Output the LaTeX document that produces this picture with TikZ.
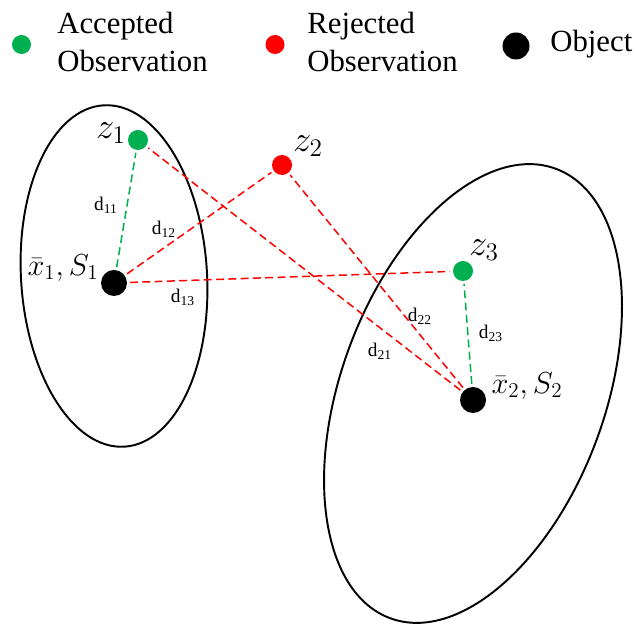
\documentclass[tikz,border=0pt]{standalone}
\usepackage{fontspec}
\setmainfont{Liberation Serif}
\usepackage{tikz}
\usetikzlibrary{positioning,shapes.geometric}
\definecolor{accgreen}{RGB}{0,176,80}
\definecolor{rejred}{RGB}{255,0,0}

\begin{document}
\begin{tikzpicture}[
    obs/.style={circle,fill=#1,inner sep=0pt,minimum size=0.4cm},
    obj/.style={circle,fill=black,inner sep=0pt,minimum size=0.52cm},
    keydot/.style={circle,fill=#1,inner sep=0pt,minimum size=0.38cm},
    dist/.style={draw=#1,line width=0.85pt,dash pattern=on 4.5pt off 2.5pt,shorten <=1.5pt,shorten >=1.5pt},
    mlab/.style={font=\fontsize{18}{20}\selectfont,inner sep=0pt},
    zlab/.style={font=\fontsize{21}{23}\selectfont,inner sep=0pt},
    dlab/.style={font=\fontsize{11}{12}\selectfont,inner sep=0pt},
    key/.style={font=\fontsize{17.5}{21.6}\selectfont,align=left,anchor=west,inner sep=0pt}]
  \useasboundingbox (0,0) rectangle (12.74,12.48);

  % legend
  \node[keydot=accgreen] (kacc) at (0.43,11.59) {};
  \node[key] (tacc) at (1.14,11.64) {Accepted\\Observation};
  \node[keydot=rejred] (krej) at (5.50,11.59) {};
  \node[key] (trej) at (6.14,11.64) {Rejected\\Observation};
  \node[keydot=black,minimum size=0.54cm] (kobj) at (10.32,11.56) {};
  \node[key] (tobj) at (11.00,11.60) {Object};

  % covariance ellipses
  \draw[line width=1.1pt,rotate around={3.5:(2.28,6.96)}] (2.28,6.96) ellipse [x radius=1.86,y radius=3.42];
  \draw[line width=1.1pt,rotate around={-20.2:(9.46,4.61)}] (9.46,4.61) ellipse [x radius=2.64,y radius=4.79];

  % objects and observations
  \node[obj] (x1) at (2.28,6.82) {};
  \node[obj] (x2) at (9.46,4.48) {};
  \node[obs=accgreen] (z1) at (2.76,9.68) {};
  \node[obs=rejred] (z2) at (5.64,9.18) {};
  \node[obs=accgreen] (z3) at (9.26,7.06) {};

  \node[zlab] (lz1) at (2.22,9.82) {$z_1$};
  \node[zlab] (lz2) at (6.16,9.56) {$z_2$};
  \node[zlab] (lz3) at (9.68,7.48) {$z_3$};
  \node[mlab] (lx1) at (1.26,7.12) {$\bar{x}_1, S_1$};
  \node[mlab] (lx2) at (10.54,4.76) {$\bar{x}_2, S_2$};

  % distances
  \foreach \a/\b/\c in {x1/z1/accgreen, x2/z3/accgreen, x1/z2/rejred, x1/z3/rejred, x2/z1/rejred, x2/z2/rejred}
    \draw[dist=\c] (\a) -- (\b);

  \node[dlab] (d11) at (2.12,8.38) {d\textsubscript{11}};
  \node[dlab] (d12) at (3.28,7.90) {d\textsubscript{12}};
  \node[dlab] (d13) at (3.66,6.54) {d\textsubscript{13}};
  \node[dlab] (d21) at (7.60,5.46) {d\textsubscript{21}};
  \node[dlab] (d22) at (8.40,6.16) {d\textsubscript{22}};
  \node[dlab] (d23) at (9.82,5.82) {d\textsubscript{23}};
\end{tikzpicture}
\end{document}
